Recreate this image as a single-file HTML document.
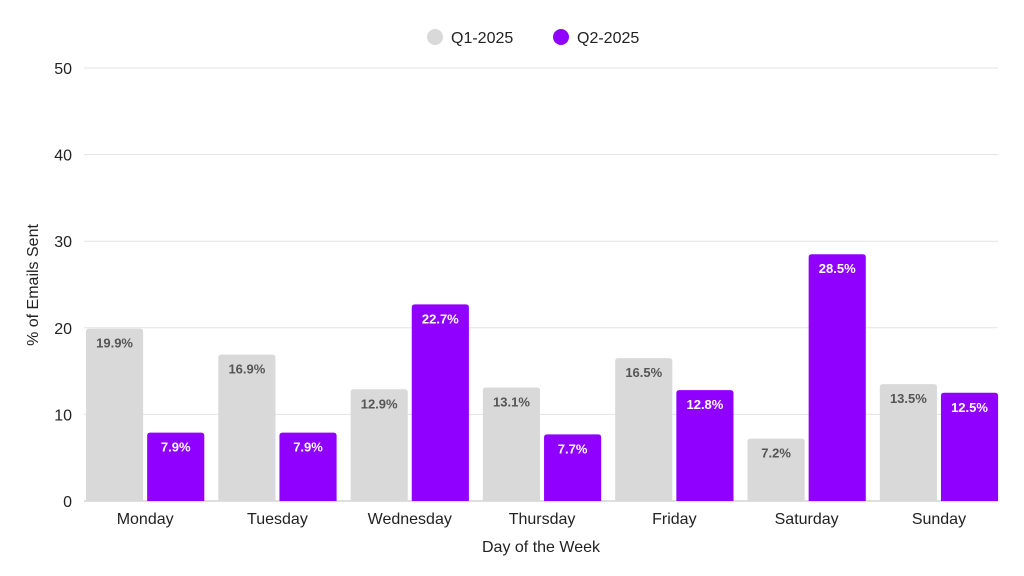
<!DOCTYPE html>
<html><head><meta charset="utf-8"><style>
html,body{margin:0;padding:0;background:#fff;}
svg{display:block;font-family:"Liberation Sans",sans-serif;}
</style></head><body>
<svg id="chart" width="1024" height="576" viewBox="0 0 1024 576"></svg>
<script>
const categories=["Monday","Tuesday","Wednesday","Thursday","Friday","Saturday","Sunday"];
const q1Values=[19.9,16.9,12.9,13.1,16.5,7.2,13.5];
const q2Values=[7.9,7.9,22.7,7.7,12.8,28.5,12.5];
const yTicks=[0,10,20,30,40,50];
const seriesNames=["Q1-2025","Q2-2025"];
const colors=["#d9d9d9","#8f00ff"];
const labelColors=["#555555","#ffffff"];

const NS="http://www.w3.org/2000/svg";
const svg=document.getElementById('chart');
const plotL=84,plotR=998,plotT=68,plotB=501,yMax=50;
const bandStart=79,band=132.3,pad=7,gap=4;
const y=v=>plotB-(v/yMax)*(plotB-plotT);
const bw=(band-2*pad-gap)/2;
function mk(tag,attrs,parent){const e=document.createElementNS(NS,tag);for(const k in attrs)e.setAttribute(k,attrs[k]);(parent||svg).appendChild(e);return e;}

yTicks.forEach(t=>{
  const g=mk('line',{x1:plotL,x2:plotR,y1:y(t),y2:y(t),stroke:t===0?'#bdbdbd':'#e3e3e3','stroke-width':1});
  
  
  const tx=mk('text',{x:72,y:y(t)+6,'text-anchor':'end','font-size':16,fill:'#222'});
  tx.textContent=t;
  
  
});

[q1Values,q2Values].forEach((vals,s)=>{
  vals.forEach((v,i)=>{
    const x=bandStart+i*band+pad+s*(bw+gap);
    const top=y(v),h=plotB-top,r=3;
    const p=mk('path',{d:`M${x},${plotB}V${top+r}Q${x},${top} ${x+r},${top}H${x+bw-r}Q${x+bw},${top} ${x+bw},${top+r}V${plotB}Z`,fill:colors[s]});
    
    
    const t=mk('text',{x:x+bw/2,y:top+19,'text-anchor':'middle','font-size':13,'font-weight':'bold',fill:labelColors[s]});
    t.textContent=v.toFixed(1)+'%';
    
    
  });
});

categories.forEach((c,i)=>{
  const t=mk('text',{x:bandStart+i*band+band/2,y:524,'text-anchor':'middle','font-size':16,fill:'#222'});
  t.textContent=c;
  
  
});

const xt=mk('text',{x:541,y:552,'text-anchor':'middle','font-size':16,fill:'#222'});
xt.textContent='Day of the Week';


const yt=mk('text',{x:0,y:0,'text-anchor':'middle','font-size':16,fill:'#222',transform:'translate(38,285) rotate(-90)'});
yt.textContent='% of Emails Sent';



const legX=[435,561];
seriesNames.forEach((n,s)=>{
  const c=mk('circle',{cx:legX[s],cy:37,r:8,fill:colors[s]});
  
  
  const t=mk('text',{x:legX[s]+16,y:43,'font-size':16,fill:'#222'});
  t.textContent=n;
  
  
});
</script>
</body></html>
